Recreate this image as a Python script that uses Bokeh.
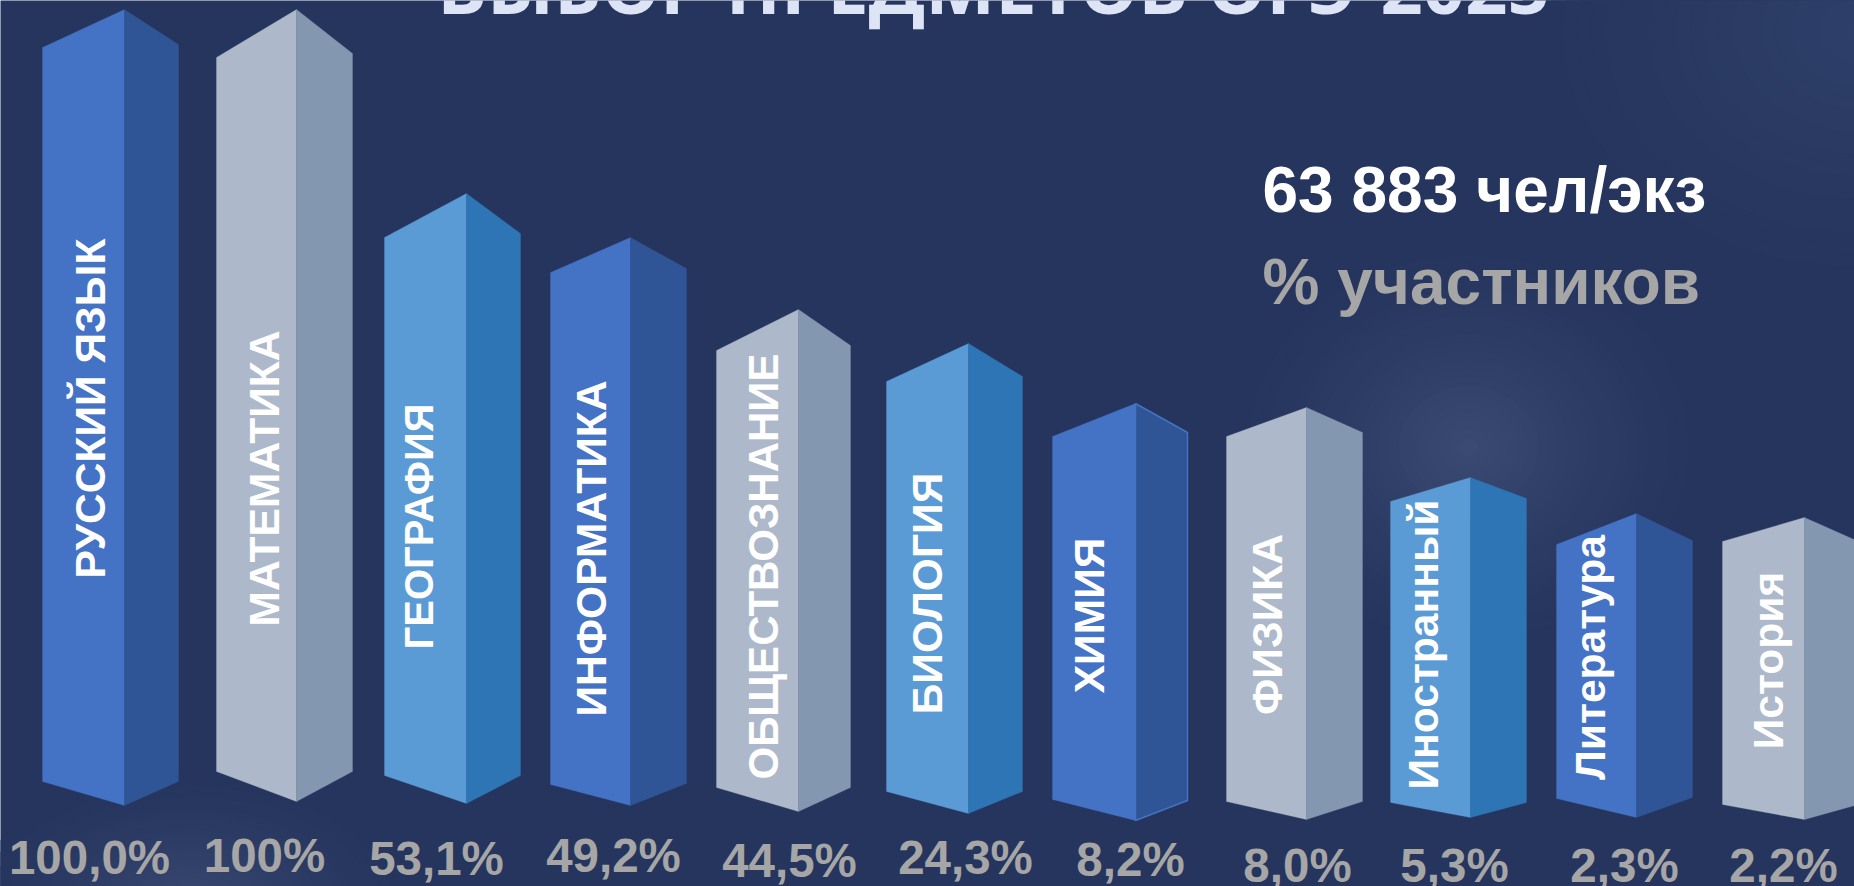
from bokeh.plotting import figure
from bokeh.models import Range1d, ColumnDataSource
from bokeh.core.properties import value
from bokeh.embed import file_html
from bokeh.resources import INLINE
import math

# ---- chart content -------------------------------------------------
subjects = ["РУССКИЙ ЯЗЫК", "МАТЕМАТИКА", "ГЕОГРАФИЯ", "ИНФОРМАТИКА", "ОБЩЕСТВОЗНАНИЕ", "БИОЛОГИЯ",
            "ХИМИЯ", "ФИЗИКА", "Иностранный", "Литература", "История"]
percent_labels = ["100,0%", "100%", "53,1%", "49,2%", "44,5%", "24,3%", "8,2%", "8,0%", "5,3%", "2,3%", "2,2%"]
tone = ["blue", "grey", "sky", "blue", "grey", "sky", "blue", "grey", "sky", "blue", "grey"]

# the pillars' outline (scale: 0 at top, 886 at bottom)
pillar_left  = [42, 216, 384, 550, 716, 886, 1052, 1226, 1390, 1556, 1722]
pillar_ridge = [124, 296, 466, 630, 798, 968, 1135, 1306, 1470, 1636, 1804]
pillar_right = [178, 352, 520, 686, 850, 1022, 1187, 1362, 1526, 1692, 1858]
apex         = [9, 9, 193, 237, 309, 343, 403, 407, 477, 513, 517]
shoulder_l   = [47, 57, 237, 272, 350, 381, 436, 436, 501, 544, 541]
shoulder_r   = [44, 53, 233, 268, 345, 376, 432, 432, 498, 540, 541]
foot_l       = [781, 771, 775, 784, 787, 791, 799, 801, 802, 798, 804]
foot_ridge   = [805, 801, 803, 805, 811, 813, 820, 819, 817, 817, 819]
foot_r       = [781, 771, 775, 783, 787, 791, 800, 801, 802, 797, 804]

label_x = [105, 279, 433, 606, 779, 942, 1104, 1282, 1438, 1605, 1783]
label_y = [408, 478, 526, 548, 566, 593, 615, 624, 644, 657, 660]
label_px = [42.6, 42.6, 40, 42.6, 42, 42.6, 42.6, 42.6, 42.6, 42.6, 42.6]
pct_x = [89, 264, 436, 613, 789, 965, 1130, 1297, 1454, 1624, 1783]
pct_y = [875, 873, 876, 873, 878, 875, 877, 883, 883, 883, 883]

title_text = "ВЫБОР ПРЕДМЕТОВ ОГЭ-2025"
count_text = "63 883 чел/экз"
share_text = "% участников"

# ---- styling ---------------------------------------------------------
FRONT = {"blue": "#4472c4", "grey": "#adb9ca", "sky": "#5b9bd5"}
SIDE = {"blue": "#2f5597", "grey": "#8497b0", "sky": "#2e75b6"}
BG = (0x26, 0x35, 0x5e)
BG_HEX = "#%02x%02x%02x" % BG
W, H = 1854, 886
LIFT = 0.37  # the renderer draws "alphabetic" text this share of the font size below the anchor

p = figure(width=W, height=H, x_range=Range1d(0, W), y_range=Range1d(H, 0),
           output_backend="svg", toolbar_location=None, min_border=0,
           background_fill_color=BG_HEX, border_fill_color=BG_HEX, outline_line_color=None)
p.axis.visible = False
p.grid.visible = False

# soft glows behind the pillars: opaque rings, from the background colour to the peak colour
for cx, cy, rx, ry, peak in [(1468, 447, 240, 210, (0x3b, 0x4b, 0x74)),
                             (190, 905, 220, 130, (0x3a, 0x4a, 0x73)),
                             (1860, 30, 340, 270, (0x2e, 0x40, 0x69))]:
    n = 24
    for i in range(n):
        k = 1 - i / n
        t = (1 - k) ** 1.4
        col = tuple(round(b + (q - b) * t) for b, q in zip(BG, peak))
        p.ellipse(x=[cx], y=[cy], width=[2 * rx * k], height=[2 * ry * k],
                  fill_color="#%02x%02x%02x" % col, line_color=None)

front_src = ColumnDataSource(dict(
    xs=[[l, r, r, l] for l, r in zip(pillar_left, pillar_ridge)],
    ys=[[sl, ap, fr, fl] for sl, ap, fr, fl in zip(shoulder_l, apex, foot_ridge, foot_l)],
    c=[FRONT[t] for t in tone]))
side_src = ColumnDataSource(dict(
    xs=[[m, r, r, m] for m, r in zip(pillar_ridge, pillar_right)],
    ys=[[ap, sr, fr2, fr] for ap, sr, fr2, fr in zip(apex, shoulder_r, foot_r, foot_ridge)],
    c=[SIDE[t] for t in tone],
    lc=[FRONT["blue"] if s == "ХИМИЯ" else SIDE[t] for s, t in zip(subjects, tone)],
    lw=[1.5 if s == "ХИМИЯ" else 0.3 for s in subjects]))
p.patches("xs", "ys", source=front_src, fill_color="c", line_color="c", line_width=0.3)
p.patches("xs", "ys", source=side_src, fill_color="c", line_color="lc", line_width="lw")

FONT = value("Liberation Sans")
label_src = ColumnDataSource(dict(
    x=[x - LIFT * s for x, s in zip(label_x, label_px)], y=label_y, text=subjects,
    size=["%gpx" % s for s in label_px]))
p.text(x="x", y="y", text="text", source=label_src, angle=math.pi / 2, text_color="white", text_font=FONT,
       text_font_style="bold", text_font_size="size", text_align="center", text_baseline="alphabetic")
p.text(x=pct_x, y=[y - LIFT * 47.5 for y in pct_y], text=percent_labels, text_color="#a6a6a6", text_font=FONT,
       text_font_style="bold", text_font_size="47.5px", text_align="center", text_baseline="alphabetic")
p.text(x=[1262], y=[213 - LIFT * 64], text=[count_text], text_color="white", text_font=FONT,
       text_font_style="bold", text_font_size="64px", text_align="left", text_baseline="alphabetic")
p.text(x=[1262], y=[305 - LIFT * 64], text=[share_text], text_color="#a6a6a6", text_font=FONT,
       text_font_style="bold", text_font_size="64px", text_align="left", text_baseline="alphabetic")
p.text(x=[993], y=[12 - LIFT * 74], text=[title_text], text_color="#dde4f6", text_font=value("Open Sans"),
       text_font_style="bold", text_font_size="74px", text_align="center", text_baseline="alphabetic")

open("out.html", "w").write(file_html(p, INLINE))
